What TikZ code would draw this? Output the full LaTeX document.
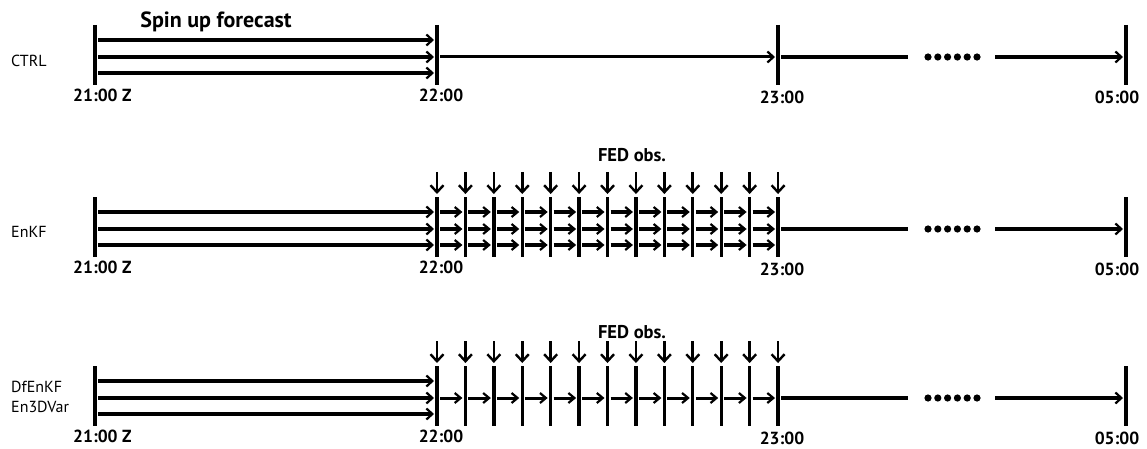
\documentclass[tikz,border=0pt]{standalone}
\usepackage{fontspec}
\setmainfont{PT Sans}
\usepackage{tikz}
\usetikzlibrary{arrows.meta}
\def\dt{28.42}   % one cycle (5 min) in pt
\tikzset{
  tick/.style={line width=3.4pt},
  fcst/.style={line width=3.4pt, shorten <=3pt, shorten >=3pt,
               -{Straight Barb[length=6pt,width=11pt,line width=2.2pt]}},
  cyc/.style={line width=3.2pt, shorten <=3pt, shorten >=3pt,
              -{Straight Barb[length=6pt,width=10pt,line width=2.2pt]}},
  free/.style={line width=3.2pt},
  freearr/.style={free, shorten >=3pt,
                  -{Straight Barb[length=6pt,width=11pt,line width=2.2pt]}},
  obs/.style={line width=2.6pt, -{Straight Barb[length=7pt,width=13pt,line width=2.4pt]}},
  hour/.style={font=\fontsize{17.5}{20}\selectfont\bfseries, inner sep=0pt, anchor=north},
  run/.style={font=\fontsize{16}{20}\selectfont, align=left, anchor=west, inner sep=0pt},
  head/.style={font=\fontsize{18.5}{20}\selectfont\bfseries, inner sep=0pt},
}

\begin{document}
\begin{tikzpicture}[x=1pt, y=-1pt]
  \useasboundingbox (0,0) rectangle (1147,449);

  % --- one time axis per run ---------------------------------------------
  \foreach \r/\y in {1/55, 2/227, 3/396} {
    \coordinate (t\r-a) at (95,\y);      % 21:00
    \coordinate (t\r-b) at (437,\y);     % 22:00
    \coordinate (t\r-c) at (778,\y);     % 23:00
    \coordinate (t\r-d) at (1126,\y);    % 05:00
    \coordinate (t\r-g) at (908,\y+2);   % gap for the dots
    \coordinate (t\r-h) at (995,\y+2);
    \foreach \p in {a,b,c,d}
      \draw[tick] ([yshift=30pt]t\r-\p) -- ([yshift=-30pt]t\r-\p);
    \foreach \dy in {15,-2,-18}
      \draw[fcst] ([yshift=\dy pt]t\r-a) -- ([yshift=\dy pt]t\r-b);
    \draw[free] ([xshift=3pt,yshift=-2pt]t\r-c) -- (t\r-g);
    \draw[freearr] (t\r-h) -- ([yshift=-2pt]t\r-d);
    \foreach \k in {0,...,5}
      \fill (928+\k*9.8,\y+2) circle (3.6pt);
    \node[hour, anchor=north west] (h\r-a) at (73,\y+34) {21:00 Z};
    \node[hour] (h\r-b) at (441,\y+34) {22:00};
    \node[hour] (h\r-c) at (782,\y+36) {23:00};
    \node[hour] (h\r-d) at (1117,\y+36) {05:00};
  }

  % --- CTRL: free forecast after spin up ------------------------------------
  \draw[fcst, line width=3pt] ([yshift=-2pt]t1-b) -- ([yshift=-2pt]t1-c);

  % --- 5-min cycles with FED obs. ------------------------------------------
  \foreach \r/\y in {2/227, 3/396} {
    \foreach \i in {0,...,12}
      \coordinate (t\r-s\i) at (437+\i*\dt,\y);
    \foreach \i in {1,...,11}
      \draw[tick] ([yshift=30pt]t\r-s\i) -- ([yshift=-30pt]t\r-s\i);
    \foreach \i in {0,...,12}
      \draw[obs] ([yshift=55pt]t\r-s\i) -- ([yshift=33pt]t\r-s\i);
  }
  \foreach \i [evaluate=\i as \j using int(\i+1)] in {0,...,11} {
    \foreach \dy in {15,-2,-18}
      \draw[cyc] ([yshift=\dy pt]t2-s\i) -- ([yshift=\dy pt]t2-s\j);   % EnKF
    \draw[cyc, line width=3pt] ([yshift=-2pt]t3-s\i) -- ([yshift=-2pt]t3-s\j);  % hybrid
  }

  % --- labels ----------------------------------------------------------------
  \node[head, font=\fontsize{22}{24}\selectfont\bfseries] (spin) at (216,22) {Spin up forecast};
  \node[head] (fed2) at (632,155) {FED obs.};
  \node[head] (fed3) at (632,332) {FED obs.};
  \node[run] (ctrl) at (11,61) {CTRL};
  \node[run] (enkf) at (11,232) {EnKF};
  \node[run] (hyb) at (11,397) {DfEnKF\\En3DVar};
\end{tikzpicture}
\end{document}
